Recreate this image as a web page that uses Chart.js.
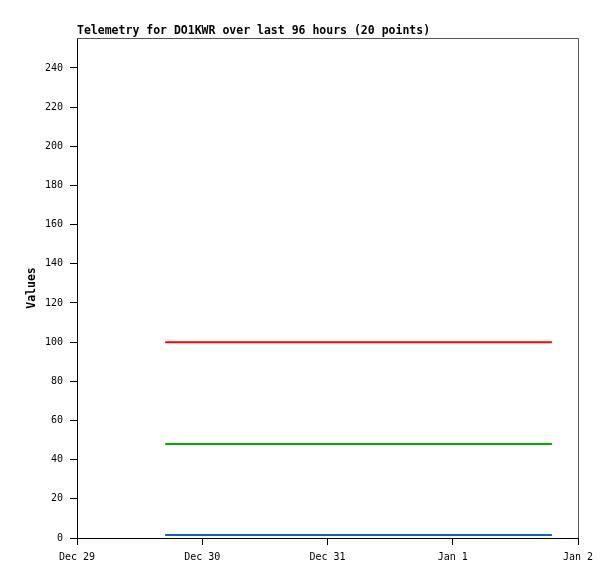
<!DOCTYPE html>
<html>
<head>
<meta charset="utf-8">
<script src="https://cdn.jsdelivr.net/npm/chart.js@4.4.0/dist/chart.umd.min.js"></script>
<style>
  html, body { margin: 0; padding: 0; background: #fff; }
  #wrap { width: 615px; height: 579px; }
</style>
</head>
<body>
<div id="wrap"><canvas id="chart-telemetry"></canvas></div>
<script>
// hours since Dec 29 00:00
const pointHours = [16.9, 20.8, 24.7, 28.6, 32.5, 36.4, 40.3, 44.2, 48.1, 52.0,
                    55.9, 59.8, 63.7, 67.6, 71.5, 75.4, 79.3, 83.2, 87.1, 91.0];
const seriesRed   = [100, 100, 100, 100, 100, 100, 100, 100, 100, 100, 100, 100, 100, 100, 100, 100, 100, 100, 100, 100];
const seriesGreen = [48, 48, 48, 48, 48, 48, 48, 48, 48, 48, 48, 48, 48, 48, 48, 48, 48, 48, 48, 48];
const seriesBlue  = [1.5, 1.5, 1.5, 1.5, 1.5, 1.5, 1.5, 1.5, 1.5, 1.5, 1.5, 1.5, 1.5, 1.5, 1.5, 1.5, 1.5, 1.5, 1.5, 1.5];
const xTickHours  = [0, 24, 48, 72, 96];
const xTickLabels = ['Dec 29', 'Dec 30', 'Dec 31', 'Jan 1', 'Jan 2'];
const yTicks      = [0, 20, 40, 60, 80, 100, 120, 140, 160, 180, 200, 220, 240];
const titleText   = 'Telemetry for DO1KWR over last 96 hours (20 points)';
const yAxisTitle  = 'Values';

const FONT = '"DejaVu Sans Mono", "Liberation Mono", monospace';

function toXY(vals) {
    return vals.map((v, i) => ({ x: pointHours[i], y: v }));
}

// titel, y-achsentitel und rahmen oben/rechts
const framePlugin = {
    id: 'frame',
    afterDraw(chart) {
        const { ctx, chartArea: a } = chart;
        ctx.save();
        ctx.strokeStyle = '#555';
        ctx.lineWidth = 1;
        ctx.beginPath();
        ctx.moveTo(a.left, a.top + 0.5);
        ctx.lineTo(a.right + 0.5, a.top + 0.5);
        ctx.lineTo(a.right + 0.5, a.bottom);
        ctx.stroke();

        ctx.fillStyle = '#000';
        ctx.font = 'bold 11.5px ' + FONT;
        ctx.textAlign = 'left';
        ctx.textBaseline = 'alphabetic';
        ctx.fillText(titleText, a.left, a.top - 4);

        ctx.translate(32, (a.top + a.bottom) / 2);
        ctx.rotate(-Math.PI / 2);
        ctx.textAlign = 'center';
        ctx.textBaseline = 'middle';
        ctx.fillText(yAxisTitle, 0, 0);
        ctx.restore();
    }
};

const ds = (data, color) => ({
    data: toXY(data), borderColor: color, backgroundColor: color,
    borderWidth: 2, pointRadius: 0, tension: 0, fill: false
});

new Chart(document.getElementById('chart-telemetry'), {
    type: 'line',
    data: {
        datasets: [
            ds(seriesRed, '#ff0000'),
            ds(seriesGreen, '#00b000'),
            ds(seriesBlue, '#0a64c8')
        ]
    },
    options: {
        responsive: true,
        maintainAspectRatio: false,
        animation: false,
        layout: { padding: { top: 38, right: 37, left: 0, bottom: 0 } },
        plugins: { legend: { display: false }, tooltip: { enabled: false } },
        scales: {
            x: {
                type: 'linear', min: 0, max: 96,
                afterBuildTicks: ax => { ax.ticks = xTickHours.map(v => ({ value: v })); },
                afterFit: ax => { ax.height = 41; },
                grid: { drawOnChartArea: false, drawTicks: true, tickLength: 7, color: '#000' },
                border: { display: true, color: '#000', width: 1 },
                ticks: {
                    padding: 6, color: '#000', maxRotation: 0, autoSkip: false,
                    font: { family: FONT, size: 10 },
                    callback: v => xTickLabels[xTickHours.indexOf(v)]
                }
            },
            y: {
                type: 'linear', min: 0, max: 255.3,
                afterBuildTicks: ax => { ax.ticks = yTicks.map(v => ({ value: v })); },
                afterFit: ax => { ax.width = 77; },
                grid: { drawOnChartArea: false, drawTicks: true, tickLength: 7, color: '#000' },
                border: { display: true, color: '#000', width: 1 },
                ticks: {
                    padding: 7, color: '#000', autoSkip: false,
                    font: { family: FONT, size: 10 }
                }
            }
        }
    },
    plugins: [framePlugin]
});
</script>
</body>
</html>
